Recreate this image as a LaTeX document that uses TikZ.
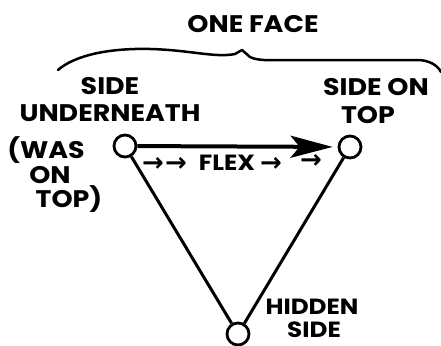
\documentclass[tikz,border=0pt]{standalone}
\usepackage{fontspec}
\setmainfont{Poppins}[FakeStretch=1.12]
\newfontfamily\arrowfont{DejaVu Sans}
\usetikzlibrary{arrows.meta}
\tikzset{
 vert/.style={circle,draw,line width=2.8pt,minimum size=22pt,inner sep=0pt,fill=white},
 edge/.style={line width=3pt},
 lbl/.style={font=\fontsize{24}{24}\selectfont\bfseries,inner sep=0pt},
 lblsm/.style={font=\fontsize{22}{22}\selectfont\bfseries,inner sep=0pt},
 flexlbl/.style={font=\fontsize{22}{22}\selectfont\bfseries,inner sep=0pt},
 arr/.style={font=\fontsize{26}{26}\selectfont\arrowfont\bfseries,inner sep=0pt},
}
\begin{document}
\begin{tikzpicture}[x=1pt,y=-1pt]
\useasboundingbox (0,0) rectangle (441,345);
\node[vert] (L) at (125,146) {};
\node[vert] (R) at (350,147) {};
\node[vert] (B) at (238,334) {};
\draw[edge] (L) -- (B);
\draw[edge] (R) -- (B);
\draw[line width=4pt,-{Stealth[length=42pt,width=22pt,inset=9pt]},shorten >=5pt] (L) -- (R);
\draw[line width=2.5pt,line cap=round,line join=round] (58,70) .. controls (75,55) and (110,48) .. (150,49) .. controls (190,50) and (215,58) .. (235,54) -- (242,50) -- (250,57) .. controls (258,61) and (270,60) .. (280,60) -- (417,60) .. controls (430,60) and (438,66) .. (441,72);
\node[lbl] (oneface) at (253,24) {ONE FACE};
\node[lbl] (su1) at (110,86) {SIDE};
\node[lbl] (su2) at (110,113) {UNDERNEATH};
\node[lbl] (st1) at (376,87) {SIDE ON};
\node[lbl] (st2) at (368,115) {TOP};
\node[lbl] (w1) at (46,150) {(WAS};
\node[lbl] (w2) at (50,175) {ON};
\node[lbl] (w3) at (69,199) {TOP)};
\node[lblsm] (h1) at (312,307) {HIDDEN};
\node[lblsm] (h2) at (314,330) {SIDE};
\node[arr] (a1) at (153,164) {→};
\node[arr] (a2) at (176,164) {→};
\node[flexlbl] (flex) at (227,163) {FLEX};
\node[arr] (a3) at (271,164) {→};
\node[arr] (a4) at (311,161) {→};
\end{tikzpicture}
\end{document}
